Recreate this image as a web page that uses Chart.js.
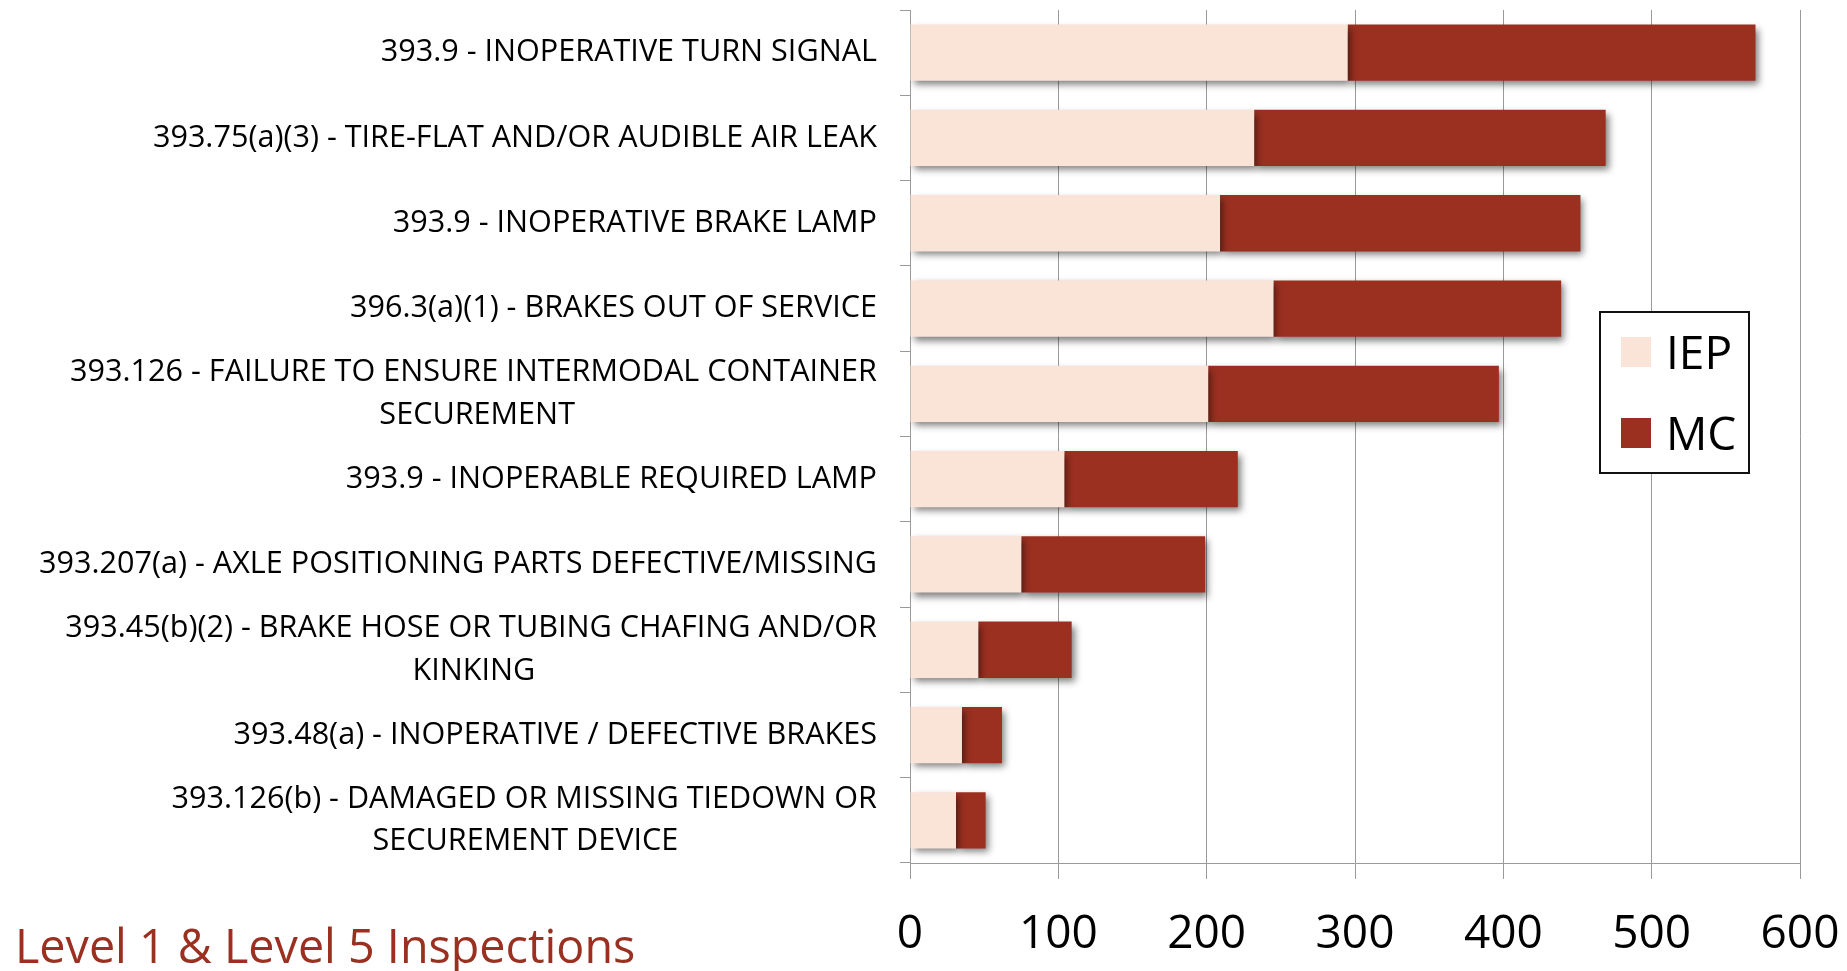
<!DOCTYPE html>
<html><head><meta charset="utf-8">
<script src="https://cdn.jsdelivr.net/npm/chart.js@4.4.1/dist/chart.umd.min.js"></script>
<style>
html,body{margin:0;padding:0;background:#fff;overflow:hidden;}
#wrap{position:relative;width:1847px;height:971px;}
#c{position:absolute;left:0;top:0;}
#title{position:absolute;left:15px;top:922px;font-family:"Open Sans";font-size:46.7px;line-height:46px;color:#9B3021;white-space:nowrap;}
</style></head><body>
<div id="wrap"><canvas id="c" width="1847" height="971"></canvas><div id="title">Level 1 &amp; Level 5 Inspections</div></div>
<script>
const categories = [
  ["393.9 - INOPERATIVE TURN SIGNAL"],
  ["393.75(a)(3) - TIRE-FLAT AND/OR AUDIBLE AIR LEAK"],
  ["393.9 - INOPERATIVE BRAKE LAMP"],
  ["396.3(a)(1) - BRAKES OUT OF SERVICE"],
  ["393.126 - FAILURE TO ENSURE INTERMODAL CONTAINER", "SECUREMENT"],
  ["393.9 - INOPERABLE REQUIRED LAMP"],
  ["393.207(a) - AXLE POSITIONING PARTS DEFECTIVE/MISSING"],
  ["393.45(b)(2) - BRAKE HOSE OR TUBING CHAFING AND/OR", "KINKING"],
  ["393.48(a) - INOPERATIVE / DEFECTIVE BRAKES"],
  ["393.126(b) - DAMAGED OR MISSING TIEDOWN OR", "SECUREMENT DEVICE"]
];
const seriesNames = ["IEP", "MC"];
const iepValues = [295, 232, 209, 245, 201, 104, 75, 46, 35, 31];
const mcValues  = [275, 237, 243, 194, 196, 117, 124, 63, 27, 20];
const xTickValues = [0, 100, 200, 300, 400, 500, 600];

const IEP_COLOR = '#FAE3D7';
const MC_COLOR = '#9B3021';
const GRID = '#9a9a9a';
const LABEL_SIZE = 30.6;
const labelFont = LABEL_SIZE + 'px "Open Sans"';

const mctx = document.createElement('canvas').getContext('2d');
function centeredLines(lines) {
  if (lines.length < 2) return lines[0];
  mctx.font = labelFont;
  const w0 = mctx.measureText(lines[0]).width;
  const sp = mctx.measureText(' ').width;
  return lines.map((l, i) => i === 0 ? l :
    l + ' '.repeat(Math.max(0, Math.round((w0 - mctx.measureText(l).width) / 2 / sp))));
}

const shadowPlugin = {
  id: 'barShadow',
  beforeDatasetsDraw(chart) {
    const c = chart.ctx;
    c.save();
    c.shadowColor = 'rgba(0,0,0,0.5)';
    c.shadowBlur = 7;
    c.shadowOffsetX = 3;
    c.shadowOffsetY = 4;
  },
  afterDatasetsDraw(chart) { chart.ctx.restore(); }
};

const legendBox = {
  id: 'legendBox',
  afterDraw(chart) {
    const ctx = chart.ctx;
    ctx.save();
    ctx.fillStyle = '#fff';
    ctx.fillRect(1600, 312, 149, 161);
    ctx.lineWidth = 2;
    ctx.strokeStyle = '#111';
    ctx.strokeRect(1600, 312, 149, 161);
    ctx.font = '46px "Open Sans"';
    ctx.textAlign = 'left';
    ctx.textBaseline = 'alphabetic';
    chart.data.datasets.forEach((ds, i) => {
      const cy = 352 + i * 81;
      ctx.fillStyle = ds.backgroundColor;
      ctx.fillRect(1621, cy - 15, 30, 30);
      ctx.fillStyle = '#000';
      ctx.fillText(ds.label, 1666, cy + 16.5);
    });
    ctx.restore();
  }
};

new Chart(document.getElementById('c'), {
  type: 'bar',
  data: {
    labels: categories,
    datasets: [
      { label: seriesNames[0], data: iepValues, backgroundColor: IEP_COLOR, borderWidth: 0 },
      { label: seriesNames[1], data: mcValues, backgroundColor: MC_COLOR, borderWidth: 0 }
    ]
  },
  options: {
    indexAxis: 'y',
    responsive: false,
    animation: false,
    devicePixelRatio: 1,
    categoryPercentage: 1.0,
    barPercentage: 0.66,
    layout: { padding: { left: 0, right: 47, top: 10, bottom: 0 } },
    plugins: { legend: { display: false }, tooltip: { enabled: false }, title: { display: false } },
    scales: {
      x: {
        stacked: true,
        min: 0, max: 600,
        afterBuildTicks: s => { s.ticks = xTickValues.map(v => ({ value: v })); },
        afterFit: s => { s.height = 108; s.paddingLeft = 0; s.paddingRight = 0; s.paddingTop = 0; s.paddingBottom = 0; },
        grid: { color: GRID, lineWidth: 1, tickLength: 16, drawTicks: true },
        border: { display: true, color: GRID, width: 1 },
        ticks: { font: { family: 'Open Sans', size: 46 }, color: '#000', padding: 28, maxRotation: 0 }
      },
      y: {
        stacked: true,
        afterFit: s => { s.width = 910; s.paddingLeft = 0; s.paddingRight = 0; s.paddingTop = 0; s.paddingBottom = 0; },
        grid: { drawOnChartArea: false, drawTicks: true, tickLength: 10, color: GRID, offset: true },
        border: { display: true, color: GRID, width: 1 },
        ticks: {
          font: { family: 'Open Sans', size: LABEL_SIZE, lineHeight: 1.39 },
          color: '#000', padding: 23, autoSkip: false,
          callback: (value, index) => centeredLines(categories[index])
        }
      }
    }
  },
  plugins: [shadowPlugin, legendBox]
});
</script>
</body></html>
